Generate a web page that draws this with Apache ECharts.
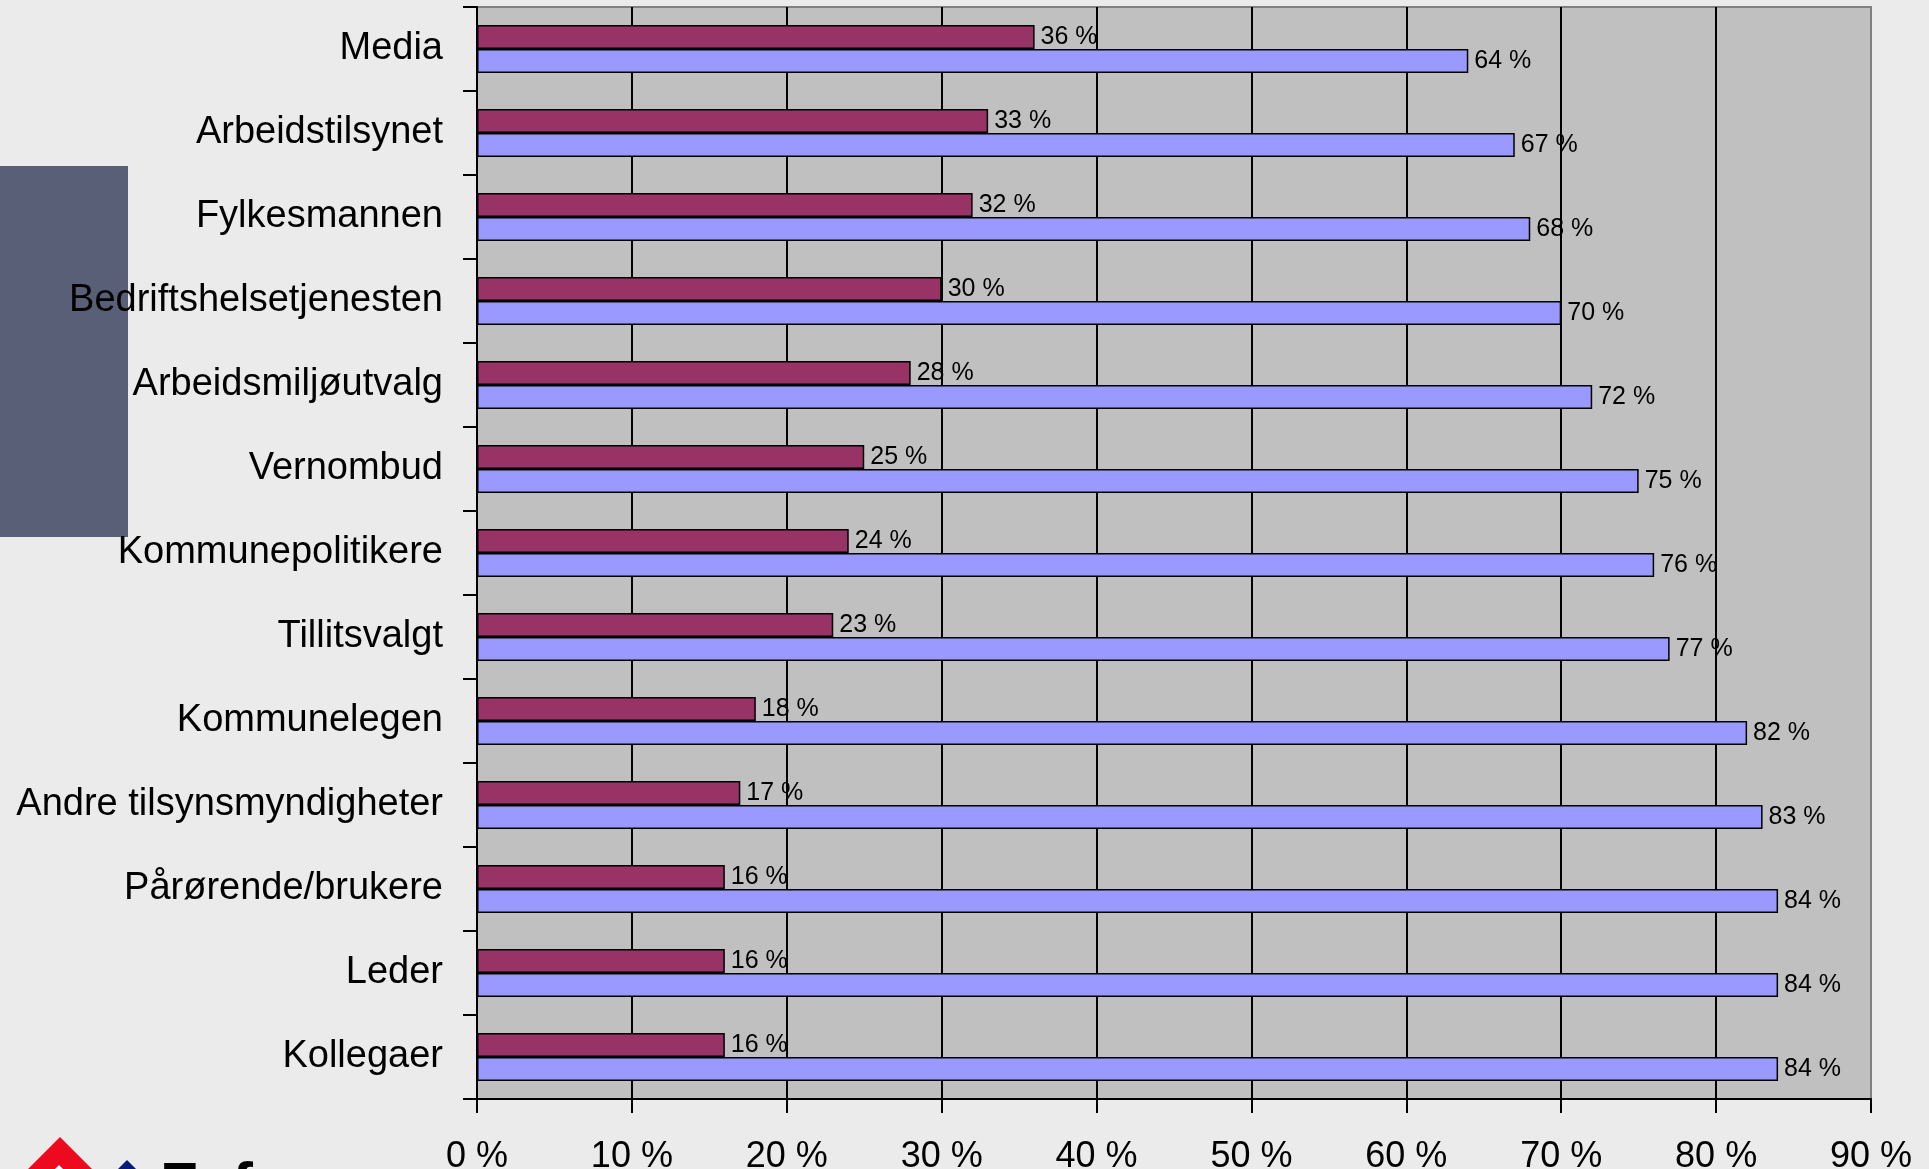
<!DOCTYPE html>
<html>
<head>
<meta charset="utf-8">
<script src="https://cdn.jsdelivr.net/npm/echarts@6/dist/echarts.min.js"></script>
<style>
html,body{margin:0;padding:0;background:#ebebeb;}
#chart{width:1929px;height:1169px;}
</style>
</head>
<body>
<div id="chart"></div>
<script>
const categories = ["Media","Arbeidstilsynet","Fylkesmannen","Bedriftshelsetjenesten","Arbeidsmiljøutvalg","Vernombud","Kommunepolitikere","Tillitsvalgt","Kommunelegen","Andre tilsynsmyndigheter","Pårørende/brukere","Leder","Kollegaer"];
const seriesA = [36,33,32,30,28,25,24,23,18,17,16,16,16];
const seriesB = [64,67,68,70,72,75,76,77,82,83,84,84,84];
const xTicks = [0,10,20,30,40,50,60,70,80,90];

const FONT = '"Liberation Sans", Arial, sans-serif';
const chart = echarts.init(document.getElementById('chart'), null, {renderer:'canvas'});
const option = {
  backgroundColor: '#ebebeb',
  animation: false,
  grid: {
    left: 477, top: 7, right: 58, bottom: 70,
    containLabel: false, outerBoundsMode: 'none',
    show: true, backgroundColor: '#c0c0c0', borderColor: '#808080', borderWidth: 2
  },
  xAxis: {
    type: 'value', min: xTicks[0], max: xTicks[xTicks.length-1], interval: 10,
    axisLine: {show: true, lineStyle: {color: '#000', width: 2}},
    axisTick: {show: true, inside: false, length: 14, lineStyle: {color: '#000', width: 2}},
    splitLine: {show: true, showMinLine: false, showMaxLine: false, lineStyle: {color: '#000', width: 2}},
    axisLabel: {color: '#000', fontFamily: FONT, fontSize: 36, margin: 40, formatter: '{value} %'}
  },
  yAxis: {
    type: 'category', data: categories, inverse: true,
    axisLine: {show: true, lineStyle: {color: '#000', width: 2}},
    axisTick: {show: true, inside: false, length: 14, lineStyle: {color: '#000', width: 2}},
    axisLabel: {color: '#000', fontFamily: FONT, fontSize: 38, margin: 34, padding: [7, 0, 0, 0]}
  },
  graphic: [
    {type: 'rect', z: -10, shape: {x: 0, y: 166, width: 128, height: 371}, style: {fill: '#5a5f78'}},
    {type: 'polygon', z: 5, shape: {points: [[60,1137],[100,1177],[60,1217],[20,1177]]}, style: {fill: '#ee0a1e'}},
    {type: 'polygon', z: 6, shape: {points: [[59,1165],[70,1176],[59,1187],[48,1176]]}, style: {fill: '#ffffff'}},
    {type: 'polygon', z: 5, shape: {points: [[127,1160],[150,1183],[104,1183]]}, style: {fill: '#0a1a78'}},
    {type: 'text', z: 5, style: {text: 'Fafo', x: 160, y: 1157, fill: '#000', font: 'bold 62px "Liberation Sans", Arial, sans-serif', textVerticalAlign: 'top'}}
  ],
  series: [
    {
      type: 'bar', name: 'A', data: seriesA, barWidth: 24, barGap: '0%', barCategoryGap: '40%',
      itemStyle: {color: '#993366', borderColor: '#000', borderWidth: 1.5},
      label: {show: true, position: 'right', distance: 6, color: '#000', fontFamily: FONT, fontSize: 25, formatter: '{c} %'}
    },
    {
      type: 'bar', name: 'B', data: seriesB, barWidth: 24, barGap: '0%', barCategoryGap: '40%',
      itemStyle: {color: '#9999ff', borderColor: '#000', borderWidth: 1.5},
      label: {show: true, position: 'right', distance: 6, color: '#000', fontFamily: FONT, fontSize: 25, formatter: '{c} %'}
    }
  ]
};
chart.setOption(option);
</script>
</body>
</html>
